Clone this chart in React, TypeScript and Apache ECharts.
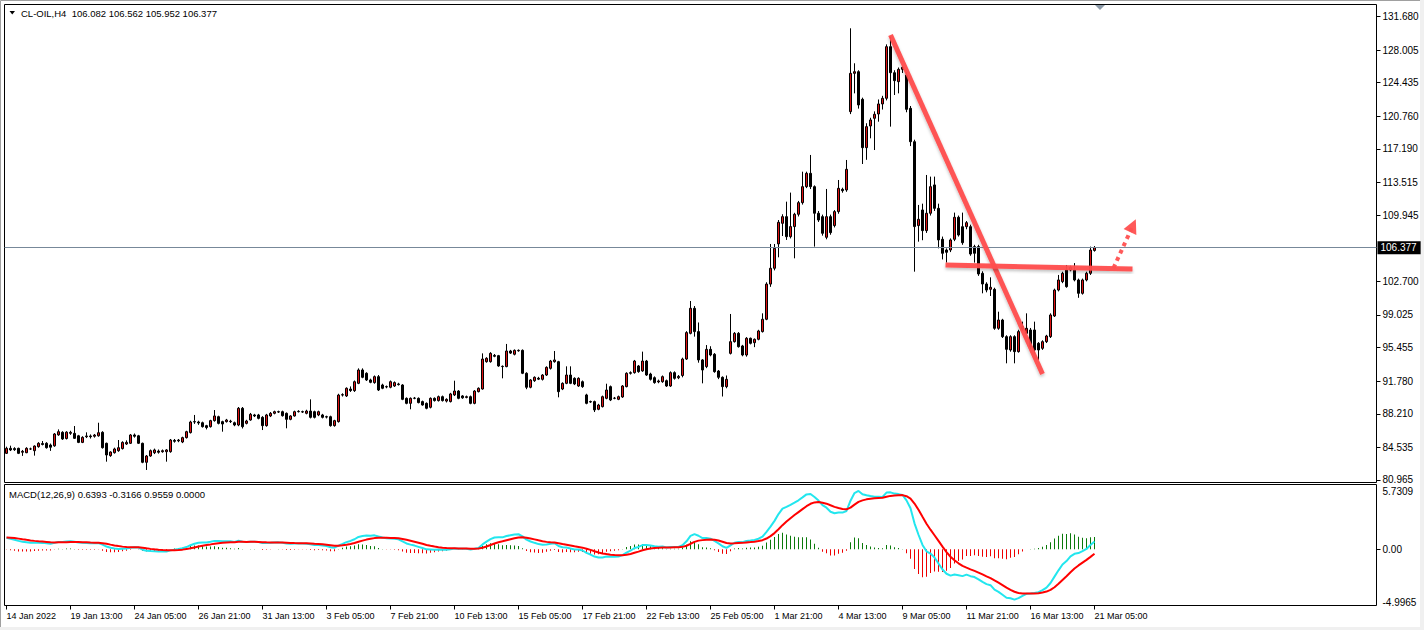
import React, { useEffect, useRef } from "react";
import * as echarts from "echarts";

// ---- instrument / readouts ----
const symbolName = "CL-OIL,H4";
const macdReadout = ["0.6393", "-0.3166", "0.9559", "0.0000"];

// ---- H4 bars: [open, close, low, high] ----
// 14 Jan - 3 Feb
const ohlcJan: number[][] = [
  [83.88, 84.43, 83.81, 84.61], [84.43, 84.25, 84.13, 84.72], [84.4, 84.28, 84.15, 84.55], [84.43, 83.88, 83.8, 84.5],
  [84.0, 84.1, 83.6, 84.25], [83.95, 84.43, 83.9, 84.55], [84.36, 84.36, 84.25, 84.5], [84.17, 84.68, 83.63, 84.75],
  [84.61, 84.98, 84.5, 85.1], [84.95, 84.85, 84.75, 85.23], [84.98, 84.5, 84.4, 85.1], [84.79, 84.55, 84.15, 84.95],
  [84.7, 86.0, 84.6, 86.1], [85.9, 86.25, 85.8, 86.5], [86.18, 85.45, 85.35, 86.3], [85.5, 86.2, 85.4, 86.3],
  [86.07, 86.18, 85.9, 86.35], [86.07, 85.52, 85.45, 86.87], [85.8, 85.08, 85.0, 85.9], [85.08, 85.63, 85.0, 85.75],
  [85.7, 85.78, 85.55, 86.18], [85.78, 85.7, 85.5, 85.95], [85.75, 85.88, 85.6, 86.0], [85.8, 86.14, 85.7, 87.23],
  [86.18, 84.5, 84.4, 86.3], [84.98, 83.7, 82.97, 85.05], [83.63, 84.03, 83.5, 84.1], [83.95, 84.36, 83.85, 84.5],
  [84.17, 84.5, 84.05, 85.34], [84.4, 85.08, 84.3, 85.2], [84.9, 85.08, 84.8, 85.3], [84.98, 85.89, 84.9, 86.0],
  [85.89, 85.75, 85.6, 86.05], [85.8, 84.98, 84.9, 85.9], [84.98, 82.9, 82.8, 85.05], [82.9, 83.59, 82.06, 83.7],
  [83.59, 84.17, 83.5, 84.3], [83.95, 84.25, 83.8, 84.4], [84.13, 84.0, 83.85, 84.3], [84.06, 84.17, 83.95, 84.3],
  [84.06, 84.25, 82.97, 84.35], [84.06, 85.34, 83.95, 85.45], [85.3, 85.2, 85.05, 85.45], [85.25, 85.33, 85.1, 85.45],
  [85.12, 85.6, 85.0, 85.7], [85.6, 86.25, 85.5, 86.35], [86.15, 87.31, 86.05, 87.45], [87.31, 87.35, 87.1, 88.08],
  [87.31, 87.2, 87.0, 87.45], [87.23, 86.8, 86.7, 87.35], [86.91, 86.7, 86.5, 87.0], [86.8, 87.46, 86.7, 87.55],
  [87.46, 87.97, 87.35, 88.62], [87.89, 87.16, 87.05, 88.0], [87.35, 87.09, 86.25, 87.45], [87.35, 87.53, 87.25, 87.65],
  [87.4, 87.35, 87.2, 87.55], [87.23, 86.98, 86.85, 87.35], [86.98, 88.81, 86.85, 88.95], [88.81, 86.8, 86.6, 88.95],
  [87.16, 87.42, 87.05, 87.55], [87.53, 88.15, 87.45, 88.3], [88.08, 87.97, 87.85, 88.2], [88.08, 87.71, 87.6, 88.2],
  [87.82, 86.91, 86.43, 87.95], [86.91, 88.08, 86.8, 88.2], [87.97, 88.26, 87.85, 88.4], [88.26, 88.44, 88.15, 88.55],
  [88.44, 88.4, 88.3, 88.55], [88.44, 88.0, 87.9, 88.55], [88.26, 87.6, 86.62, 88.35], [87.6, 87.97, 87.5, 88.05],
  [87.97, 88.44, 87.9, 88.55], [88.44, 88.48, 88.35, 88.6], [88.44, 88.4, 88.3, 88.55], [88.26, 88.51, 88.15, 88.65],
  [88.51, 87.82, 87.7, 89.79], [88.44, 87.82, 87.7, 88.55], [88.08, 88.44, 87.95, 88.55], [88.08, 87.82, 87.7, 88.2],
  [87.89, 87.85, 87.7, 88.0], [87.89, 86.91, 86.8, 88.0], [86.91, 87.46, 86.8, 87.55], [87.35, 90.26, 87.25, 90.4],
  [90.26, 90.3, 90.1, 90.45], [90.16, 91.0, 90.05, 91.1], [90.92, 90.75, 90.6, 91.2],
];
// 3 Feb - 1 Mar
const ohlcFeb: number[][] = [
  [90.74, 91.72, 90.6, 91.85], [91.54, 93.0, 91.45, 93.18], [93.0, 92.2, 92.1, 93.18], [92.64, 91.91, 91.8, 92.75],
  [91.91, 91.65, 91.55, 92.05], [91.62, 92.27, 91.5, 92.4], [92.27, 90.81, 90.7, 92.45], [91.36, 91.0, 90.9, 91.5],
  [91.18, 91.15, 91.0, 91.3], [91.11, 91.72, 91.0, 91.85], [91.25, 91.62, 91.15, 91.75], [91.47, 91.4, 91.3, 91.6],
  [91.36, 89.79, 89.7, 91.45], [89.9, 89.35, 89.25, 90.0], [89.35, 89.9, 88.7, 90.0], [89.9, 89.92, 89.8, 90.05],
  [89.9, 89.43, 89.35, 90.0], [89.54, 89.17, 89.1, 89.65], [89.35, 88.81, 88.7, 89.45], [88.92, 89.9, 88.8, 90.0],
  [89.9, 89.65, 89.55, 90.0], [89.65, 90.08, 89.55, 90.2], [90.08, 89.65, 89.55, 90.2], [89.6, 89.79, 89.45, 89.9],
  [89.54, 90.38, 89.45, 90.5], [90.27, 90.7, 90.15, 91.83], [90.7, 89.9, 89.8, 90.8], [90.16, 89.95, 89.85, 90.25],
  [90.0, 90.08, 89.9, 90.2], [90.08, 89.35, 89.25, 90.2], [89.35, 90.7, 89.25, 90.8], [90.63, 91.0, 90.55, 91.1],
  [90.92, 94.2, 90.85, 94.82], [93.91, 94.28, 93.8, 94.4], [93.91, 94.82, 93.8, 94.95], [94.6, 94.5, 94.4, 94.75],
  [94.57, 93.44, 93.35, 94.65], [93.4, 93.37, 92.09, 93.5], [93.37, 95.08, 93.3, 95.85], [95.08, 94.85, 94.75, 95.2],
  [94.72, 95.15, 94.6, 95.25], [95.1, 95.15, 95.0, 95.25], [95.15, 92.64, 92.55, 95.25], [92.64, 91.11, 90.9, 92.75],
  [91.11, 91.91, 91.0, 92.0], [91.83, 92.2, 91.7, 92.3], [92.1, 92.0, 91.9, 92.25], [91.98, 92.45, 91.85, 92.55],
  [92.45, 93.29, 92.35, 93.4], [93.18, 93.98, 93.05, 94.1], [93.91, 94.1, 93.8, 95.08], [93.91, 90.63, 90.01, 94.0],
  [90.92, 91.54, 90.8, 91.65], [91.54, 92.45, 91.45, 93.4], [92.45, 91.54, 91.45, 93.4], [92.09, 91.47, 91.35, 92.2],
  [91.25, 92.09, 91.15, 92.2], [91.72, 91.18, 91.05, 91.85], [90.27, 89.35, 89.25, 90.4], [89.54, 89.5, 89.4, 89.65],
  [89.54, 88.63, 88.4, 89.65], [88.7, 89.17, 88.6, 89.3], [88.99, 90.08, 88.9, 90.2], [89.9, 90.81, 89.8, 91.5],
  [91.18, 89.72, 89.6, 91.3], [89.9, 89.92, 89.8, 90.05], [89.79, 90.08, 89.7, 90.2], [90.05, 91.25, 89.95, 91.35],
  [91.18, 92.64, 91.1, 92.75], [92.64, 92.71, 92.5, 92.85], [92.71, 93.98, 92.6, 94.1], [93.44, 92.82, 92.7, 93.55],
  [92.9, 93.98, 92.8, 95.01], [93.98, 92.45, 92.35, 94.1], [92.56, 91.98, 91.85, 92.7], [92.16, 91.62, 91.5, 92.3],
  [91.7, 91.8, 91.55, 91.95], [91.72, 92.27, 91.6, 92.4], [91.83, 91.25, 91.15, 91.95], [91.25, 92.71, 91.15, 92.85],
  [92.71, 92.09, 91.95, 92.85], [92.15, 92.3, 92.0, 92.45], [92.4, 94.2, 92.2, 94.35], [94.2, 97.09, 94.1, 97.25],
  [97.01, 99.75, 96.9, 100.55], [99.75, 97.2, 96.65, 100.0], [97.2, 94.1, 93.8, 98.2], [94.1, 93.0, 91.54, 94.2],
  [93.37, 95.26, 93.2, 95.73], [95.26, 94.64, 94.5, 95.6], [94.72, 92.82, 92.7, 94.85], [92.89, 92.2, 92.0, 93.0],
  [92.2, 91.18, 90.1, 92.3], [91.18, 91.98, 91.0, 92.4], [94.82, 96.1, 94.7, 99.13], [96.1, 97.01, 96.0, 97.15],
  [97.01, 95.55, 95.45, 97.15], [95.63, 94.64, 94.5, 95.75], [94.64, 96.47, 94.46, 96.6], [96.47, 95.92, 95.8, 96.55],
  [95.99, 96.36, 95.5, 96.45], [96.36, 97.27, 96.25, 97.4], [97.2, 98.55, 97.1, 99.2], [98.55, 102.4, 98.45, 102.6],
];
// 1 Mar - 21 Mar
const ohlcMar: number[][] = [
  [102.4, 104.13, 102.1, 106.79], [104.13, 106.31, 103.9, 106.79], [106.8, 109.16, 105.33, 109.41], [109.05, 109.78, 107.66, 110.04],
  [109.78, 107.59, 107.23, 111.42], [107.59, 108.69, 107.4, 112.41], [108.69, 110.04, 105.22, 110.2], [110.04, 111.31, 109.8, 111.5],
  [111.31, 113.06, 111.1, 114.7], [113.06, 114.52, 112.9, 114.7], [114.52, 113.06, 112.8, 116.53], [113.06, 110.15, 106.5, 113.2],
  [110.15, 109.41, 109.2, 110.4], [109.78, 107.96, 107.7, 110.0], [107.52, 109.78, 107.3, 112.81], [109.78, 108.03, 107.8, 110.0],
  [108.8, 110.33, 108.6, 110.5], [110.33, 112.88, 110.1, 113.79], [112.77, 112.62, 112.4, 112.95], [112.7, 114.96, 112.5, 115.98],
  [121.27, 125.46, 121.0, 130.39], [125.46, 125.64, 123.27, 126.56], [125.64, 122.0, 121.6, 125.8], [122.62, 117.33, 115.54, 122.8],
  [117.33, 119.63, 116.0, 120.0], [119.7, 120.36, 118.35, 120.6], [120.54, 120.98, 117.07, 121.3], [121.01, 122.11, 120.17, 122.6],
  [122.11, 122.73, 121.5, 123.0], [122.73, 128.38, 122.5, 128.63], [128.38, 125.53, 119.63, 129.47], [125.53, 124.66, 123.09, 125.8],
  [124.55, 125.9, 123.27, 126.1], [125.9, 126.12, 125.5, 126.3], [125.28, 121.52, 121.2, 125.6], [121.63, 117.98, 117.5, 121.89],
  [117.98, 108.69, 103.76, 118.2], [108.8, 109.49, 107.04, 111.06], [110.51, 108.25, 107.2, 111.2], [108.25, 110.15, 108.0, 114.34],
  [110.15, 113.06, 109.9, 114.16], [113.25, 110.69, 110.4, 114.16], [110.69, 107.23, 106.31, 111.2], [107.3, 105.77, 105.1, 107.6],
  [106.13, 105.88, 104.75, 106.3], [106.13, 107.23, 105.9, 107.4], [107.3, 109.71, 107.1, 110.22], [109.71, 107.77, 107.6, 109.9],
  [108.68, 106.93, 106.7, 110.22], [108.68, 109.12, 108.4, 109.3], [108.68, 105.69, 105.5, 108.9], [106.5, 105.77, 104.75, 106.7],
  [106.5, 103.51, 103.3, 106.7], [103.58, 102.41, 101.39, 103.8], [102.41, 101.75, 101.5, 102.6], [101.83, 102.05, 101.1, 103.14],
  [101.83, 97.56, 97.4, 102.0], [97.56, 98.47, 97.4, 99.38], [98.47, 96.65, 96.5, 98.6], [96.65, 95.26, 93.73, 96.8],
  [95.19, 96.65, 95.0, 96.8], [96.65, 95.01, 93.73, 96.8], [95.01, 97.2, 94.9, 97.4], [97.49, 97.74, 97.3, 98.29],
  [97.01, 97.56, 96.9, 99.2], [97.38, 95.55, 95.3, 97.6], [97.38, 95.19, 94.8, 98.29], [95.92, 95.19, 94.1, 96.05],
  [95.37, 96.1, 95.2, 96.25], [96.1, 96.72, 95.95, 96.85], [96.65, 99.02, 96.5, 99.2], [98.91, 101.75, 98.8, 101.9],
  [101.75, 102.85, 101.6, 103.4], [102.67, 103.58, 102.5, 103.75], [103.94, 102.12, 102.0, 104.49], [103.94, 104.23, 103.8, 104.4],
  [103.94, 102.85, 102.7, 104.7], [102.85, 101.39, 100.9, 103.0], [101.39, 102.85, 101.25, 103.0], [102.85, 103.58, 102.7, 103.75],
  [103.58, 106.13, 103.4, 106.5], [106.082, 106.377, 105.952, 106.562],
];

// ---- axes ----
const dateLabels = [
  "14 Jan 2022", "19 Jan 13:00", "24 Jan 05:00", "26 Jan 21:00", "31 Jan 13:00", "3 Feb 05:00",
  "7 Feb 21:00", "10 Feb 13:00", "15 Feb 05:00", "17 Feb 21:00", "22 Feb 13:00", "25 Feb 05:00",
  "1 Mar 21:00", "4 Mar 13:00", "9 Mar 05:00", "11 Mar 21:00", "16 Mar 13:00", "21 Mar 05:00",
];
const barsPerDateLabel = 16;
const priceTicks = [80.965, 84.535, 88.21, 91.78, 95.455, 99.025, 102.7, 109.945, 113.515, 117.19, 120.76, 124.435, 128.005, 131.68];
const macdScale = { max: 5.7309, min: -4.9965 };
const macdParams = [12, 26, 9];
// indicator state carried in from bars before the visible window
const macdWarmup = { ema12: 84.5, ema26: 83.4, signal: 1.05 };

// ---- drawn objects: [bar index, price] ----
const trendDown = [[221.0, 129.66], [259.0, 92.56]];
const trendNeck = [[234.75, 104.49], [281.5, 104.05]];
const breakoutArrow = [[276.75, 104.16], [281.6, 108.8]];

const SLOTS = 343;

function ema(values: number[], period: number, seed: number) {
  const k = 2 / (period + 1);
  let e = seed;
  return values.map((v) => {
    e = v * k + e * (1 - k);
    return e;
  });
}

export default function App() {
  const ref = useRef<HTMLDivElement>(null);
  useEffect(() => {
    if (!ref.current) return;
    const chart = echarts.init(ref.current, undefined, { renderer: "svg" });
    const ohlc = [...ohlcJan, ...ohlcFeb, ...ohlcMar];
    const closes = ohlc.map((b) => b[1]);
    const e12 = ema(closes, macdParams[0], macdWarmup.ema12);
    const e26 = ema(closes, macdParams[1], macdWarmup.ema26);
    const macd = e12.map((v, i) => v - e26[i]);
    const signal = ema(macd, macdParams[2], macdWarmup.signal);
    const hist = macd.map((v, i) => v - signal[i]);
    const last = ohlc[ohlc.length - 1];
    const categories = Array.from({ length: SLOTS }, (_, i) => String(i));
    const showDate = (index: number) => index % barsPerDateLabel === 0 && index / barsPerDateLabel < dateLabels.length;
    const font = "Liberation Sans";

    const option: any = {
      animation: false,
      backgroundColor: "#ffffff",
      textStyle: { fontFamily: font },
      grid: [
        { left: 4.5, top: 4.5, width: 1372, height: 478, show: true, borderColor: "#000", borderWidth: 1, backgroundColor: "#fff" },
        { left: 4.5, top: 484.5, width: 1372, height: 121, show: true, borderColor: "#000", borderWidth: 1, backgroundColor: "#fff" },
      ],
      xAxis: [
        { type: "category", gridIndex: 0, data: categories, boundaryGap: true, axisLine: { show: false, onZero: false }, axisTick: { show: false }, axisLabel: { show: false }, splitLine: { show: false } },
        { type: "value", gridIndex: 0, min: -0.5, max: SLOTS - 0.5, show: false, axisLine: { onZero: false } },
        {
          type: "category", gridIndex: 1, data: categories, boundaryGap: true,
          axisLine: { show: false, onZero: false },
          axisTick: { show: true, interval: showDate, alignWithLabel: true, length: 4, lineStyle: { color: "#000" } },
          axisLabel: {
            show: true, interval: showDate, align: "left", margin: 6, fontSize: 9, color: "#000", fontFamily: font,
            formatter: (v: string) => dateLabels[Number(v) / barsPerDateLabel] ?? "",
          },
          splitLine: { show: false },
        },
      ],
      yAxis: [
        {
          type: "value", gridIndex: 0, position: "right", min: 80.69, max: 132.993,
          axisLine: { show: false, onZero: false },
          axisTick: { show: true, length: 4, customValues: priceTicks, lineStyle: { color: "#000" } },
          axisLabel: { customValues: priceTicks, formatter: (v: number) => v.toFixed(3), fontSize: 10, margin: 6, color: "#000", fontFamily: font },
          splitLine: { show: false },
        },
        {
          type: "value", gridIndex: 1, position: "right", min: macdScale.min, max: macdScale.max,
          axisLine: { show: false, onZero: false },
          axisTick: { show: true, length: 4, customValues: [0], lineStyle: { color: "#000" } },
          axisLabel: {
            customValues: [macdScale.max, 0, macdScale.min], margin: 6, fontSize: 10, color: "#000", fontFamily: font,
            formatter: (v: number) => (v === macdScale.max ? `{t|${macdScale.max.toFixed(4)}}` : v === macdScale.min ? `{b|${macdScale.min.toFixed(4)}}` : "0.00"),
            rich: {
              t: { padding: [13, 0, 0, 0], fontSize: 10, color: "#000", fontFamily: font },
              b: { padding: [0, 0, 7, 0], fontSize: 10, color: "#000", fontFamily: font },
            },
          },
          splitLine: { show: false },
        },
      ],
      series: [
        {
          type: "candlestick", xAxisIndex: 0, yAxisIndex: 0, data: ohlc, barWidth: 2,
          itemStyle: { color: "#dd1111", color0: "#000000", borderColor: "#000000", borderColor0: "#000000", borderWidth: 1 },
          markLine: {
            silent: true, symbol: "none", animation: false,
            data: [{ yAxis: last[1] }],
            lineStyle: { color: "#778899", width: 1, type: "solid" },
            label: { show: true, position: "end", formatter: last[1].toFixed(3), backgroundColor: "#000", color: "#fff", fontSize: 10, padding: [2, 4, 1, 3], distance: 1, fontFamily: font },
          },
        },
        {
          type: "lines", coordinateSystem: "cartesian2d", xAxisIndex: 1, yAxisIndex: 0, z: 5, silent: true,
          symbol: ["none", "none"],
          lineStyle: { color: "#ff4d4d", width: 5, opacity: 0.95, shadowColor: "rgba(0,0,0,0.25)", shadowBlur: 3, shadowOffsetY: 2 },
          data: [{ coords: trendDown }, { coords: trendNeck }],
        },
        {
          type: "lines", coordinateSystem: "cartesian2d", xAxisIndex: 1, yAxisIndex: 0, z: 5, silent: true,
          symbol: ["none", "triangle"], symbolSize: 14,
          lineStyle: { color: "#ff5050", width: 4, type: [4, 4], opacity: 0.95 },
          data: [{ coords: breakoutArrow }],
        },
        {
          type: "bar", xAxisIndex: 2, yAxisIndex: 1, barWidth: 1,
          data: hist.map((v) => ({ value: v, itemStyle: { color: v >= 0 ? "#0a7a0a" : "#ee0000" } })),
        },
        { type: "line", xAxisIndex: 2, yAxisIndex: 1, data: macd, showSymbol: false, symbol: "none", lineStyle: { color: "#22e6ee", width: 2 }, z: 3 },
        { type: "line", xAxisIndex: 2, yAxisIndex: 1, data: signal, showSymbol: false, symbol: "none", lineStyle: { color: "#ff0000", width: 2 }, z: 4 },
      ],
      graphic: [
        { type: "rect", shape: { x: 0.5, y: 0.5, width: 1423, height: 629 }, style: { fill: "none", stroke: "#a0a0a0", lineWidth: 1 }, silent: true, z: -1 },
        { type: "rect", shape: { x: 1420, y: 0, width: 4, height: 630 }, style: { fill: "#f0f0f0" }, silent: true },
        { type: "rect", shape: { x: 0, y: 627, width: 1424, height: 3 }, style: { fill: "#f0f0f0" }, silent: true },
        { type: "polygon", shape: { points: [[9.5, 11], [15, 11], [12.25, 14.5]] }, style: { fill: "#000" }, silent: true },
        {
          type: "text", x: 21, y: 13, silent: true,
          style: { text: `${symbolName}  ${last[0].toFixed(3)} ${last[3].toFixed(3)} ${last[2].toFixed(3)} ${last[1].toFixed(3)}`, fontSize: 9.5, fontFamily: font, fill: "#000", verticalAlign: "middle" },
        },
        {
          type: "text", x: 9, y: 494, silent: true,
          style: { text: `MACD(${macdParams.join(",")}) ${macdReadout.join(" ")}`, fontSize: 9.5, fontFamily: font, fill: "#000", verticalAlign: "middle" },
        },
        { type: "polygon", shape: { points: [[1095, 5], [1105, 5], [1100, 10]] }, style: { fill: "#8c9aa8" }, silent: true },
      ],
    };
    chart.setOption(option);
    return () => chart.dispose();
  }, []);
  return <div ref={ref} style={{ position: "absolute", left: 0, top: 0, width: 1424, height: 630 }} />;
}
